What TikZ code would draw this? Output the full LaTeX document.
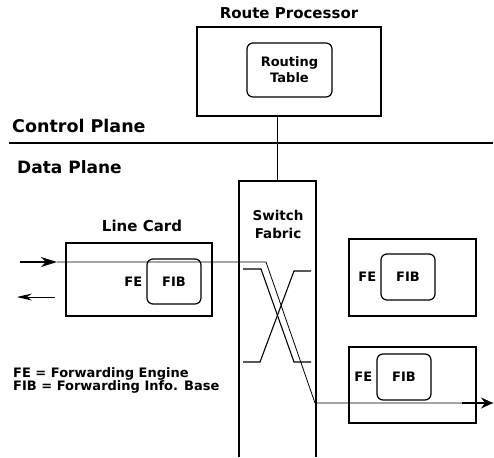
\documentclass[tikz,border=0pt]{standalone}
\usepackage{fontspec}
\setmainfont{DejaVu Sans}
\usetikzlibrary{arrows.meta,positioning}
\begin{document}
\begin{tikzpicture}[x=1pt,y=-1pt,
  box/.style={draw,line width=1.2pt,inner sep=0pt},
  tblbox/.style={box,rounded corners=6pt,align=center},
  lbl/.style={inner sep=0pt,font=\fontsize{15}{18}\selectfont\bfseries},
  small/.style={inner sep=0pt,font=\fontsize{13}{16}\selectfont\bfseries},
  wire/.style={line width=0.8pt},
  bar/.style={line width=1.1pt}]
  \useasboundingbox (0,0) rectangle (494,457);
  \node[box,minimum width=184pt,minimum height=89pt] (rp) at (289,71.5) {};
  \node[tblbox,minimum width=85pt,minimum height=54pt,font=\fontsize{13}{16}\selectfont\bfseries] (rt) at (289.5,70) {Routing\\Table};
  \node[lbl,anchor=base] (rplbl) at (289,19) {Route Processor};
  \coordinate (cl) at (9,143);
  \coordinate (cr) at (493,143);
  \draw[line width=1.2pt] (cl) -- (cr);
  \node[lbl,font=\fontsize{17.5}{20}\selectfont\bfseries,anchor=base west] (ctrl) at (12,132) {Control Plane};
  \node[lbl,font=\fontsize{17}{20}\selectfont\bfseries,anchor=base west] (data) at (17,173) {Data Plane};
  \coordinate (swtop) at (277.5,181);
  \draw[line width=1.2pt] (239,457) -- (239,181) -- (316,181) -- (316,457);
  \node[small,font=\fontsize{13.5}{18}\selectfont\bfseries,align=center] (sw) at (278,224) {Switch\\Fabric};
  \draw[bar] (rp.south -| swtop) -- (swtop);
  \node[box,minimum width=146pt,minimum height=73pt] (lc) at (139,279.5) {};
  \node[lbl,anchor=base] (lclbl) at (142,231) {Line Card};
  \node[tblbox,minimum width=54pt,minimum height=45pt,font=\fontsize{13}{16}\selectfont\bfseries] (fib1) at (174,281.5) {FIB};
  \node[small,left=4pt of fib1] (fe1) {FE};
  \node[box,minimum width=127pt,minimum height=77pt] (rc1) at (412.5,277.5) {};
  \node[tblbox,minimum width=54pt,minimum height=46pt,font=\fontsize{13}{16}\selectfont\bfseries] (fib2) at (408,277) {FIB};
  \node[small,left=4pt of fib2] (fe2) {FE};
  \node[box,minimum width=127pt,minimum height=76pt] (rc2) at (412.5,385) {};
  \node[tblbox,minimum width=54pt,minimum height=46pt,font=\fontsize{13}{16}\selectfont\bfseries] (fib3) at (404,377) {FIB};
  \node[small,left=4pt of fib3] (fe3) {FE};
  \draw[bar] (243,269) -- (261,269) -- (294,362) -- (311,362);
  \draw[bar] (243,362) -- (260,362) -- (294,271) -- (311,271);
  \coordinate (inA) at (20,262);
  \coordinate (inB) at (57,262);
  \coordinate (outA) at (55,297);
  \coordinate (outB) at (17,297);
  \coordinate (bend1) at (266,262);
  \coordinate (bend2) at (315,403);
  \coordinate (exA) at (462,403);
  \coordinate (exB) at (493,403);
  \draw[line width=1.3pt,-{Stealth[length=16pt,width=10pt,inset=5pt]}] (inA) -- (inB);
  \draw[line width=0.9pt,-{Stealth[length=15pt,width=7pt,inset=5pt]}] (outA) -- (outB);
  \draw[wire] (inB) -- (bend1) -- (bend2) -- (exB);
  \draw[line width=1.3pt,-{Stealth[length=12pt,width=11pt,inset=4pt]}] (exA) -- (exB);
  \node[small,anchor=base west] (legfe) at (13,377) {FE = Forwarding Engine};
  \node[small,anchor=base west] (legfib) at (13,390) {FIB = Forwarding Info. Base};
\end{tikzpicture}
\end{document}
